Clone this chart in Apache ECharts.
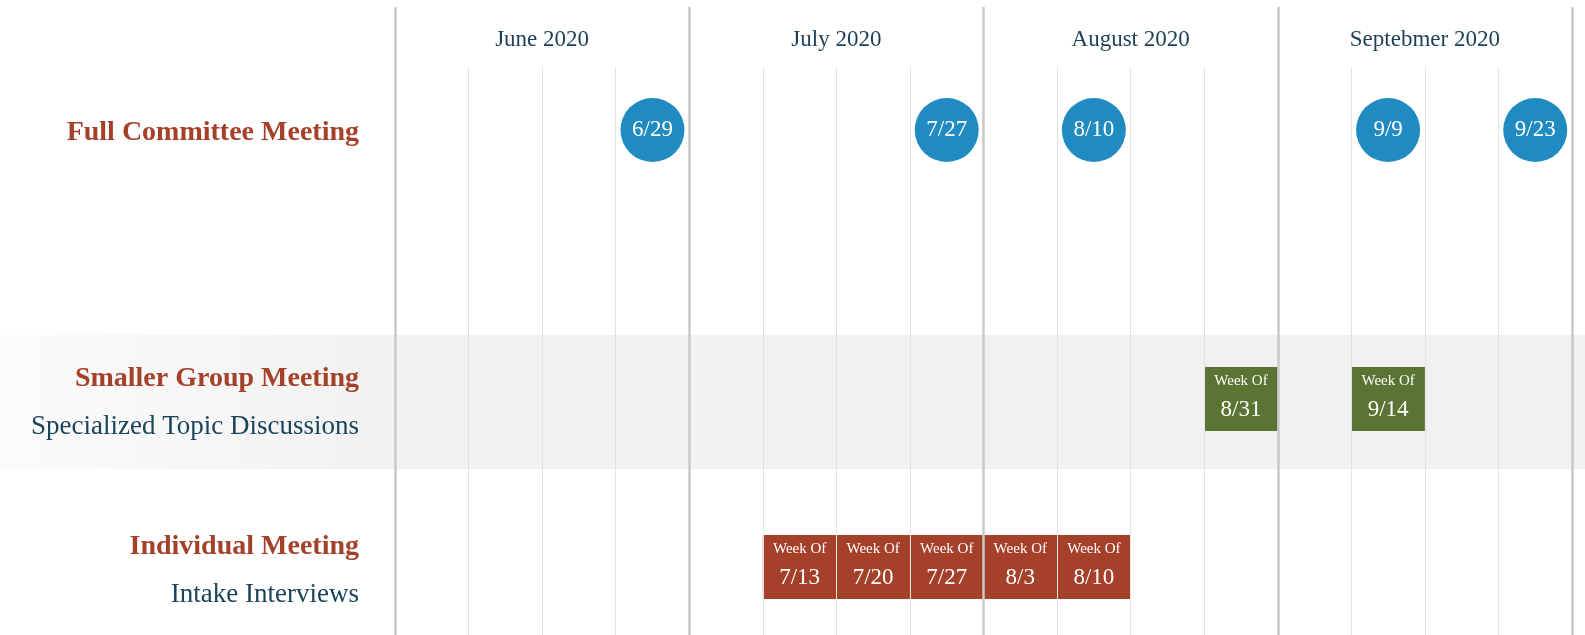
<!DOCTYPE html>
<html>
<head>
<meta charset="utf-8">
<title>Meeting Timeline</title>
<script src="https://cdn.jsdelivr.net/npm/echarts@6/dist/echarts.min.js"></script>
<style>
  html, body { margin: 0; padding: 0; background: #fff; }
  #chart { width: 1585px; height: 635px; }
</style>
</head>
<body>
<div id="chart"></div>
<script>
// ---- data ----
const months = ['June 2020', 'July 2020', 'August 2020', 'Septebmer 2020'];
const weeksPerMonth = 4;

// full committee meetings: week column + label
const committeeWeeks = [3, 7, 9, 13, 15];
const committeeDates = ['6/29', '7/27', '8/10', '9/9', '9/23'];

// smaller group meetings
const groupWeeks = [11, 13];
const groupDates = ['8/31', '9/14'];

// individual meetings
const individualWeeks = [5, 6, 7, 8, 9];
const individualDates = ['7/13', '7/20', '7/27', '8/3', '8/10'];

const rowTitles = ['Full Committee Meeting', 'Smaller Group Meeting', 'Individual Meeting'];
const rowSubtitles = ['', 'Specialized Topic Discussions', 'Intake Interviews'];

// ---- layout / style ----
const serif = '"Liberation Serif", "DejaVu Serif", serif';
const red = '#a5402a';
const green = '#5a7533';
const blue = '#1f8bc0';
const navy = '#1a4459';
const laneMax = 568;             // lane axis spans the lower grid (top 67 -> bottom)
const rowCenter = [63, 332, 500]; // lane positions of the three rows
const boxH = 64;

function weekBox(dates, color) {
    return function (params, api) {
        const a = api.coord([api.value(0), api.value(1)]);
        const b = api.coord([api.value(0) + 1, api.value(1)]);
        const cx = (a[0] + b[0]) / 2;
        const top = a[1] - boxH / 2;
        return {
            type: 'group',
            children: [
                { type: 'rect', shape: { x: a[0], y: top, width: b[0] - a[0], height: boxH }, style: { fill: color } },
                { type: 'text', style: { text: 'Week Of', x: cx, y: top + 14, align: 'center', verticalAlign: 'middle',
                    fill: '#fff', fontSize: 15, fontFamily: serif } },
                { type: 'text', style: { text: dates[params.dataIndex], x: cx, y: top + 43, align: 'center', verticalAlign: 'middle',
                    fill: '#fff', fontSize: 23, fontFamily: serif } }
            ]
        };
    };
}

const chart = echarts.init(document.getElementById('chart'));

const labelGraphics = [];
rowTitles.forEach(function (t, i) {
    const hasSub = rowSubtitles[i] !== '';
    const y = 67 + rowCenter[i] + 3;
    labelGraphics.push({
        type: 'text', z: 1,
        style: { text: t, x: 359, y: hasSub ? y - 23 : y, align: 'right', verticalAlign: 'middle',
            fill: red, fontSize: 28, fontWeight: 'bold', fontFamily: serif }
    });
    if (hasSub) {
        labelGraphics.push({
            type: 'text', z: 1,
            style: { text: rowSubtitles[i], x: 359, y: y + 25, align: 'right', verticalAlign: 'middle',
                fill: navy, fontSize: 27, fontFamily: serif }
        });
    }
});

chart.setOption({
    animation: false,
    backgroundColor: '#fff',
    graphic: [
        {
            type: 'rect', z: 0,
            shape: { x: 0, y: 335, width: 1585, height: 134 },
            style: {
                fill: { type: 'linear', x: 0, y: 0, x2: 1, y2: 0,
                    colorStops: [{ offset: 0, color: '#fbfbfb' }, { offset: 0.24, color: '#f2f2f2' }, { offset: 1, color: '#f1f1f1' }] }
            }
        }
    ].concat(labelGraphics),
    grid: [
        { left: 395, right: 13, top: 7, bottom: 0 },
        { left: 395, right: 13, top: 67, bottom: 0 }
    ],
    xAxis: [
        {
            gridIndex: 0, type: 'category', data: months, position: 'top', z: 6,
            axisLine: { show: false }, axisTick: { show: false },
            axisLabel: { inside: true, margin: 21, color: '#1c3f55', fontSize: 23, fontFamily: serif },
            splitLine: { show: true, interval: 0, lineStyle: { color: '#c9c9c9', width: 2.5 } }
        },
        {
            gridIndex: 1, type: 'value', min: 0, max: weeksPerMonth * months.length, interval: 1, z: 5,
            axisLine: { show: false }, axisTick: { show: false }, axisLabel: { show: false },
            splitLine: { show: true, lineStyle: { color: '#e2e2e2', width: 1 } }
        }
    ],
    yAxis: [
        { gridIndex: 0, type: 'value', show: false, splitLine: { show: false } },
        { gridIndex: 1, type: 'value', min: 0, max: laneMax, inverse: true, show: false, splitLine: { show: false } }
    ],
    series: [
        {
            type: 'scatter', xAxisIndex: 1, yAxisIndex: 1, z: 2,
            symbol: 'circle', symbolSize: 64,
            itemStyle: { color: blue, opacity: 1 },
            data: committeeWeeks.map(function (w, i) { return [w + 0.5, rowCenter[0], committeeDates[i]]; }),
            label: {
                show: true, position: 'inside', color: '#fff', fontSize: 23, fontFamily: serif,
                formatter: function (p) { return committeeDates[p.dataIndex]; }
            }
        },
        {
            type: 'custom', xAxisIndex: 1, yAxisIndex: 1, z: 2,
            renderItem: weekBox(groupDates, green),
            data: groupWeeks.map(function (w) { return [w, rowCenter[1]]; })
        },
        {
            type: 'custom', xAxisIndex: 1, yAxisIndex: 1, z: 2,
            renderItem: weekBox(individualDates, red),
            data: individualWeeks.map(function (w) { return [w, rowCenter[2]]; })
        }
    ]
});
</script>
</body>
</html>
